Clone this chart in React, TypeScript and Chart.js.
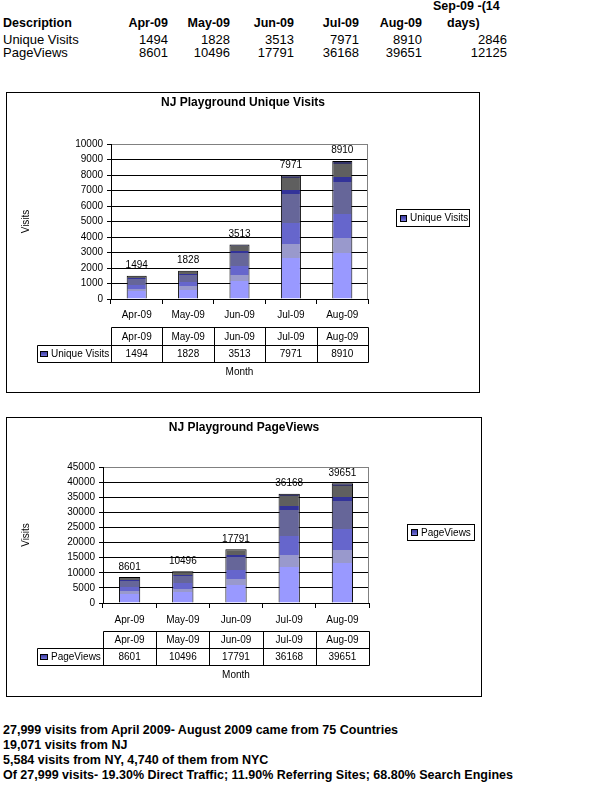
import React, { useEffect, useRef } from "react";
import { Chart, registerables } from "chart.js";
Chart.register(...registerables);

// ---------- data ----------
const months = ["Apr-09", "May-09", "Jun-09", "Jul-09", "Aug-09"];
const sepHeaderLines = ["Sep-09 -(14", "days)"];
const uniqueVisits = [1494, 1828, 3513, 7971, 8910];
const pageViews = [8601, 10496, 17791, 36168, 39651];
const uniqueVisitsSep = 2846;
const pageViewsSep = 12125;
const uniqueAxis = { max: 10000, step: 1000 };
const pageAxis = { max: 45000, step: 5000 };
const notes = [
  "27,999 visits from April 2009- August 2009 came from 75 Countries",
  "19,071 visits from NJ",
  "5,584 visits from NY, 4,740 of them from NYC",
  "Of 27,999 visits- 19.30% Direct Traffic; 11.90% Referring Sites; 68.80% Search Engines",
];

// ---------- style ----------
const FONT = "'Liberation Sans', Arial, sans-serif";
const BANDS: [number, string][] = [
  [0.0, "#9999FF"],
  [0.332, "#9999CC"],
  [0.443, "#6666CC"],
  [0.615, "#666699"],
  [0.85, "#333399"],
  [0.886, "#5F5F5F"],
  [0.978, "#333366"],
];

type Geo = {
  w: number; h: number;
  left: number; right: number; top: number; bottom: number;
  yMax: number; yStep: number;
  title: string; series: string; values: number[];
  legend: [number, number, number, number];
  rows: [number, number, number];
  tableLeft: number; monthY: number; visitsX: number; titleY: number;
  labelPad: number; barPct: number;
};

function bandGradient(ctx: CanvasRenderingContext2D, yb: number, yt: number) {
  const g = ctx.createLinearGradient(0, yb, 0, yt);
  BANDS.forEach(([start, color], i) => {
    const end = i < BANDS.length - 1 ? BANDS[i + 1][0] : 1;
    g.addColorStop(start, color);
    g.addColorStop(Math.max(start, end - 0.0001), color);
  });
  return g;
}

function drawKey(ctx: CanvasRenderingContext2D, x: number, y: number, w: number, h: number) {
  ctx.save();
  const g = ctx.createLinearGradient(0, y, 0, y + h);
  g.addColorStop(0, "#333399");
  g.addColorStop(0.5, "#5555BB");
  g.addColorStop(1, "#8888EE");
  ctx.fillStyle = g;
  ctx.fillRect(x, y, w, h);
  ctx.strokeStyle = "#000";
  ctx.lineWidth = 1;
  ctx.strokeRect(x + 0.5, y + 0.5, w - 1, h - 1);
  ctx.restore();
}

const px = (v: number) => Math.round(v) + 0.5;

function decorPlugin(g: Geo) {
  return {
    id: "excelDecor",
    beforeDatasetsDraw(chart: any) {
      const { ctx, chartArea: a } = chart;
      ctx.save();
      ctx.strokeStyle = "#808080";
      ctx.lineWidth = 1;
      ctx.beginPath();
      ctx.moveTo(px(a.right) - 1, a.top);
      ctx.lineTo(px(a.right) - 1, a.bottom);
      ctx.stroke();
      ctx.restore();
    },
    afterDraw(chart: any) {
      const { ctx, chartArea: a } = chart;
      const n = g.values.length;
      ctx.save();
      // outer border
      ctx.strokeStyle = "#000";
      ctx.lineWidth = 1;
      ctx.strokeRect(0.5, 0.5, g.w - 1, g.h - 1);
      // title
      ctx.fillStyle = "#000";
      ctx.font = `bold 12px ${FONT}`;
      ctx.textAlign = "center";
      ctx.textBaseline = "middle";
      ctx.fillText(g.title, g.w / 2, g.titleY);
      // y axis title
      ctx.font = `10px ${FONT}`;
      ctx.save();
      ctx.translate(g.visitsX, (a.top + a.bottom) / 2);
      ctx.rotate(-Math.PI / 2);
      ctx.fillText("Visits", 0, 0);
      ctx.restore();
      // value labels
      const meta = chart.getDatasetMeta(0);
      ctx.textBaseline = "alphabetic";
      meta.data.forEach((bar: any, i: number) => {
        ctx.fillText(String(g.values[i]), bar.x, bar.y - 7.5);
      });
      // legend
      const [lx1, ly1, lx2, ly2] = g.legend;
      ctx.fillStyle = "#fff";
      ctx.fillRect(lx1, ly1, lx2 - lx1, ly2 - ly1);
      ctx.strokeStyle = "#000";
      ctx.strokeRect(lx1 + 0.5, ly1 + 0.5, lx2 - lx1 - 1, ly2 - ly1 - 1);
      const lmid = (ly1 + ly2) / 2;
      drawKey(ctx, lx1 + 4, Math.round(lmid - 3.5), 7, 7);
      ctx.fillStyle = "#000";
      ctx.textAlign = "left";
      ctx.textBaseline = "middle";
      ctx.fillText(g.series, lx1 + 14, lmid + 0.5);
      // data table
      const xs = chart.scales.x;
      const half = (a.right - a.left) / (2 * n);
      const bounds: number[] = [];
      for (let i = 0; i < n; i++) bounds.push(xs.getPixelForValue(i) - half);
      bounds.push(xs.getPixelForValue(n - 1) + half);
      const [r0, r1, r2] = g.rows;
      ctx.strokeStyle = "#000";
      ctx.beginPath();
      ctx.moveTo(px(a.left), px(r0)); ctx.lineTo(px(a.right), px(r0));
      ctx.moveTo(px(g.tableLeft), px(r1)); ctx.lineTo(px(a.right), px(r1));
      ctx.moveTo(px(g.tableLeft), px(r2)); ctx.lineTo(px(a.right), px(r2));
      ctx.moveTo(px(g.tableLeft), px(r1)); ctx.lineTo(px(g.tableLeft), px(r2));
      bounds.forEach((b) => { ctx.moveTo(px(b), px(r0)); ctx.lineTo(px(b), px(r2)); });
      ctx.stroke();
      ctx.fillStyle = "#000";
      ctx.textAlign = "center";
      ctx.textBaseline = "middle";
      for (let i = 0; i < n; i++) {
        const cx = xs.getPixelForValue(i);
        ctx.fillText(months[i], cx, (r0 + r1) / 2 + 1);
        ctx.fillText(String(g.values[i]), cx, (r1 + r2) / 2 + 1);
      }
      const rmid = (r1 + r2) / 2;
      drawKey(ctx, g.tableLeft + 3, Math.round(rmid - 3), 8, 6);
      ctx.fillStyle = "#000";
      ctx.textAlign = "left";
      ctx.fillText(g.series, g.tableLeft + 14, rmid + 1);
      // x axis title
      ctx.textAlign = "center";
      ctx.fillText("Month", (a.left + a.right) / 2, g.monthY);
      ctx.restore();
    },
  };
}

function ExcelChart({ g, left, top }: { g: Geo; left: number; top: number }) {
  const ref = useRef<HTMLCanvasElement | null>(null);
  useEffect(() => {
    if (!ref.current) return;
    const font = { family: FONT, size: 10 };
    const chart = new Chart(ref.current, {
      type: "bar",
      data: {
        labels: months,
        datasets: [
          {
            label: g.series,
            data: g.values,
            backgroundColor: (c: any) => {
              const ch = c.chart;
              if (!ch.chartArea || c.type !== "data") return BANDS[0][1];
              const y = ch.scales.y;
              return bandGradient(ch.ctx, y.getPixelForValue(0), y.getPixelForValue(c.raw));
            },
            borderColor: "#000",
            borderWidth: 1,
            barPercentage: g.barPct,
            categoryPercentage: 1,
          },
        ],
      },
      options: {
        animation: false,
        responsive: false,
        devicePixelRatio: 1,
        layout: {
          padding: { left: 0, top: g.top, right: g.w - g.right, bottom: g.h - g.bottom - 25 },
        },
        plugins: {
          legend: { display: false },
          title: { display: false },
          tooltip: { enabled: false },
        },
        scales: {
          x: {
            grid: { offset: true, drawOnChartArea: false, drawTicks: true, tickLength: 5, color: "#000" },
            border: { color: "#000" },
            ticks: { font, color: "#000", padding: g.labelPad, maxRotation: 0, autoSkip: false },
            afterFit: (s: any) => { s.height = 25; },
          },
          y: {
            min: 0,
            max: g.yMax,
            ticks: {
              stepSize: g.yStep,
              font,
              color: "#000",
              padding: 4,
              callback: (v: any) => String(v),
            },
            grid: {
              color: (c: any) => (c.tick && c.tick.value === g.yMax ? "#808080" : "#000"),
              tickLength: 4,
              tickColor: "#000",
            },
            border: { color: "#000" },
            afterFit: (s: any) => { s.width = g.left; },
          },
        },
      } as any,
      plugins: [decorPlugin(g)],
    });
    return () => chart.destroy();
  }, [g]);
  return (
    <canvas
      ref={ref}
      width={g.w}
      height={g.h}
      style={{ position: "absolute", left, top, width: g.w, height: g.h }}
    />
  );
}

const geo1: Geo = {
  w: 474, h: 301, left: 105, right: 362, top: 52, bottom: 207,
  yMax: uniqueAxis.max, yStep: uniqueAxis.step,
  title: "NJ Playground Unique Visits", series: "Unique Visits", values: uniqueVisits,
  legend: [390, 117, 464, 135], rows: [235, 253, 270], tableLeft: 31,
  monthY: 280, visitsX: 20, titleY: 11, labelPad: 5, barPct: 0.39,
};
const geo2: Geo = {
  w: 476, h: 280, left: 97, right: 363, top: 50, bottom: 186,
  yMax: pageAxis.max, yStep: pageAxis.step,
  title: "NJ Playground PageViews", series: "PageViews", values: pageViews,
  legend: [401, 107, 469, 124], rows: [214, 231, 248], tableLeft: 31,
  monthY: 258, visitsX: 20, titleY: 11, labelPad: 6, barPct: 0.4,
};

const colRights = [168, 230, 294, 359, 422];
const sepRight = 507;

function T({ x, y, text, bold, size, right }: { x: number; y: number; text: string; bold?: boolean; size: number; right?: boolean }) {
  const style: React.CSSProperties = {
    position: "absolute",
    top: y - 7.5,
    lineHeight: "15px",
    fontSize: size,
    fontWeight: bold ? "bold" : "normal",
    whiteSpace: "nowrap",
  };
  if (right) {
    style.left = 0;
    style.width = x;
    style.textAlign = "right";
  } else {
    style.left = x;
  }
  return <div style={style}>{text}</div>;
}

export default function App() {
  return (
    <div
      style={{
        position: "absolute", left: 0, top: 0, width: 600, height: 799,
        background: "#fff", color: "#000", fontFamily: FONT, overflow: "hidden",
      }}
    >
      <T x={433} y={6} text={sepHeaderLines[0]} bold size={12.5} />
      <T x={3} y={23} text="Description" bold size={12.5} />
      {months.map((m, i) => (
        <T key={m} x={colRights[i]} y={23} text={m} bold size={12.5} right />
      ))}
      <T x={447} y={23} text={sepHeaderLines[1]} bold size={12.5} />
      <T x={3} y={39} text="Unique Visits" size={13} />
      {uniqueVisits.map((v, i) => (
        <T key={"u" + i} x={colRights[i]} y={39} text={String(v)} size={13} right />
      ))}
      <T x={sepRight} y={39} text={String(uniqueVisitsSep)} size={13} right />
      <T x={3} y={52} text="PageViews" size={13} />
      {pageViews.map((v, i) => (
        <T key={"p" + i} x={colRights[i]} y={52} text={String(v)} size={13} right />
      ))}
      <T x={sepRight} y={52} text={String(pageViewsSep)} size={13} right />

      <ExcelChart g={geo1} left={6} top={92} />
      <ExcelChart g={geo2} left={6} top={417} />

      {notes.map((t, i) => (
        <T key={"n" + i} x={3} y={730 + i * 15} text={t} bold size={12.5} />
      ))}
    </div>
  );
}
